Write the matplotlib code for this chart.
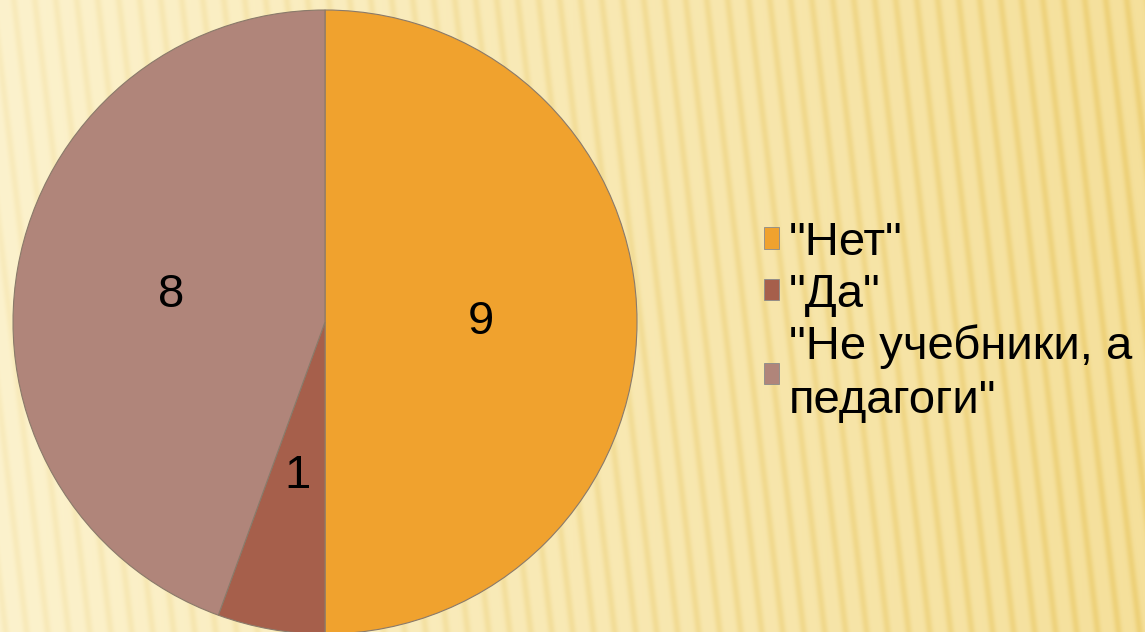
import matplotlib
matplotlib.use('Agg')
import matplotlib.pyplot as plt
import numpy as np
from matplotlib.patches import Patch

# Data
labels = ['"Нет"', '"Да"', '"Не учебники, а\nпедагоги"']
values = [9, 1, 8]
colors = ['#F0A22E', '#A65F4B', '#B0857A']

plt.rcParams['font.family'] = ['Liberation Sans', 'DejaVu Sans']

W, H = 1145, 632
fig = plt.figure(figsize=(W / 100, H / 100), dpi=100)

# Striped cream background
bg = fig.add_axes([0, 0, 1, 1])
yy, xx = np.mgrid[0:H, 0:W]
t = xx / W
base = np.stack([252 - 7 * t, 242 - 18 * t, 205 - 50 * t], axis=-1)
stripes = 0.5 + 0.5 * np.sin(2 * np.pi * (xx + 0.12 * (H - yy)) / 21.0)
shade = (stripes ** 3)[..., None] * np.array([6, 12, 28]) * (0.6 + 0.6 * t[..., None])
img = np.clip(base - shade, 0, 255) / 255
bg.imshow(img, aspect='auto', interpolation='bilinear')
bg.axis('off')

# Pie
ax = fig.add_axes([13 / W, 1 - 634 / H, 624 / W, 624 / H])
total = sum(values)
wedges, texts, autotexts = ax.pie(
    values, colors=colors, startangle=90, counterclock=False,
    autopct=lambda p: f'{round(p * total / 100)}', pctdistance=0.5,
    wedgeprops=dict(edgecolor='#8a7a6a', linewidth=0.8),
    textprops=dict(fontsize=34, color='black'))
ax.set_xlim(-1, 1)
ax.set_ylim(-1, 1)
ax.set_aspect('equal')
ax.axis('off')

# Legend
handles = [Patch(facecolor=c, edgecolor='#8a8a8a', linewidth=0.6) for c in colors]
leg = fig.legend(handles, labels, loc='center left', bbox_to_anchor=(764 / W, 1 - 322 / H),
                 frameon=False, fontsize=34, handlelength=0.32, handleheight=0.32,
                 handletextpad=0.2, labelspacing=0.16, borderaxespad=0, borderpad=0)
leg.get_texts()[2].set_linespacing(1.3)

plt.savefig('out.png', dpi=100)
